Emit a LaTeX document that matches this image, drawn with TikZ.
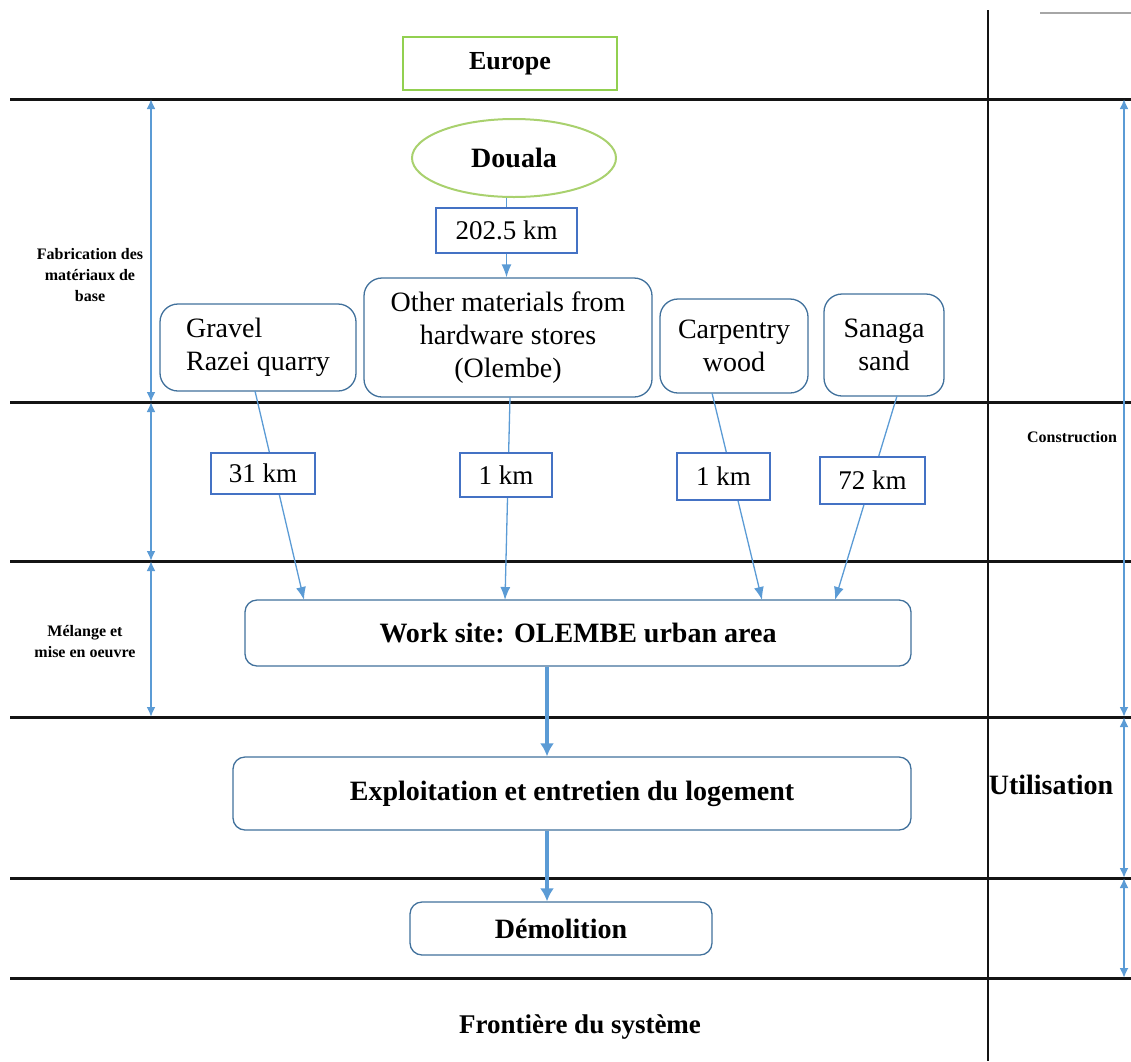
\documentclass[tikz,border=0pt]{standalone}
\usepackage{fontspec}
\setmainfont{Liberation Serif}
\usetikzlibrary{shapes.geometric,arrows.meta,calc}
\definecolor{sepblack}{RGB}{20,20,20}
\definecolor{arrowblue}{RGB}{91,155,213}
\definecolor{boxblue}{RGB}{65,113,156}
\definecolor{kmblue}{RGB}{68,114,196}
\definecolor{eugreen}{RGB}{146,208,80}
\definecolor{elgreen}{RGB}{169,209,110}
\tikzset{
  sep/.style={line width=3pt, sepblack},
  dimarrow/.style={arrowblue, line width=2pt, {Latex[length=10pt,width=9pt]}-{Latex[length=10pt,width=9pt]}},
  flow/.style={arrowblue, line width=1.3pt, -{Latex[length=13pt,width=10pt]}},
  plainflow/.style={arrowblue, line width=1.3pt},
  bigflow/.style={arrowblue, line width=4pt, -{Latex[length=13pt,width=14pt]}},
  bigfont/.style={font=\fontsize{28}{33}\selectfont},
  rbox/.style={draw=boxblue, line width=1.3pt, rounded corners=18pt, fill=white, inner sep=0pt, align=center, bigfont},
  wbox/.style={draw=boxblue, line width=1.3pt, rounded corners=12pt, fill=white, inner sep=0pt, font=\fontsize{28}{33}\selectfont\bfseries},
  kmbox/.style={draw=kmblue, line width=1.3pt, fill=white, inner sep=0pt, font=\fontsize{27}{33}\selectfont},
  smalllab/.style={align=center, font=\fontsize{16}{21}\selectfont\bfseries},
  biglab/.style={font=\fontsize{28}{33}\selectfont\bfseries},
}
\begin{document}
\begin{tikzpicture}[x=1pt,y=-1pt]
\useasboundingbox (0,0) rectangle (1131,1061);
% separators
\draw[sep] (10,99) -- (1131,99);
\draw[sep] (10,402) -- (1131,402);
\draw[sep] (10,561) -- (1131,561);
\draw[sep] (10,717) -- (1131,717);
\draw[sep] (10,878) -- (1131,878);
\draw[sep] (10,978) -- (1131,978);
\draw[line width=2.5pt, sepblack] (988,10) -- (988,1061);
\draw[line width=1.5pt, gray!70] (1040,13) -- (1131,13);
% dimension arrows
\coordinate (la) at (151,99);
\coordinate (lb) at (151,402);
\coordinate (lc) at (151,561);
\coordinate (ld) at (151,717);
\coordinate (ra) at (1124,99);
\coordinate (rb) at (1124,717);
\coordinate (rc) at (1124,878);
\coordinate (rd) at (1124,978);
\draw[dimarrow] (la) -- (lb);
\draw[dimarrow] (lb) -- (lc);
\draw[dimarrow] (lc) -- (ld);
\draw[dimarrow] (ra) -- (rb);
\draw[dimarrow] (rb) -- (rc);
\draw[dimarrow] (rc) -- (rd);
% labels
\node[smalllab] (fab) at (90,275) {Fabrication des\\matériaux de\\base};
\node[smalllab] (mel) at (85,642) {Mélange et\\mise en oeuvre};
\node[font=\fontsize{16}{18}\selectfont\bfseries] (cons) at (1072,437) {Construction};
\node[biglab] (util) at (1051,785) {Utilisation};
\node[font=\fontsize{27}{30}\selectfont\bfseries] (front) at (580,1027) {Frontière du système};
% main nodes
\node[draw=eugreen, line width=2.5pt, minimum width=214pt, minimum height=53pt, inner sep=0pt, font=\fontsize{26}{30}\selectfont\bfseries] (europe) at (510,63.5) {Europe};
\node[ellipse, draw=elgreen, line width=2pt, minimum width=204pt, minimum height=78pt, inner sep=0pt, biglab] (douala) at (514,158) {Douala};
\node[kmbox, minimum width=141pt, minimum height=45pt] (k202) at (506.5,230.5) {202.5 km};
\node[rbox, minimum width=288pt, minimum height=119pt] (other) at (508,337.5) {Other materials from\\hardware stores\\(Olembe)};
\node[rbox, minimum width=196pt, minimum height=87pt, align=left] (gravel) at (258,347.5) {Gravel\\Razei quarry};
\node[rbox, minimum width=148pt, minimum height=94pt] (carp) at (734,346) {Carpentry\\wood};
\node[rbox, minimum width=120pt, minimum height=102pt] (sand) at (884,345) {Sanaga\\sand};
\node[wbox, minimum width=666pt, minimum height=66pt] (ws) at (578,633) {Work site: OLEMBE urban area};
\node[wbox, minimum width=678pt, minimum height=73pt] (expl) at (572,793.5) {Exploitation et entretien du logement};
\node[wbox, minimum width=302pt, minimum height=53pt] (demo) at (561,928.5) {Démolition};
% connectors
\draw[plainflow] (douala.south -| k202.north) -- (k202.north);
\draw[flow] (k202.south) -- (k202.south |- other.north);
\coordinate (g1) at (255,391);
\coordinate (g2) at (304,600);
\coordinate (o1) at (510,397);
\coordinate (o2) at (505,600);
\coordinate (c1) at (712,393);
\coordinate (c2) at (762,600);
\coordinate (s1) at (897,396);
\coordinate (s2) at (835,600);
\draw[flow] (g1) -- (g2);
\draw[flow] (o1) -- (o2);
\draw[flow] (c1) -- (c2);
\draw[flow] (s1) -- (s2);
\draw[bigflow] (ws.south -| 547,0) -- (expl.north -| 547,0);
\draw[bigflow] (expl.south -| 547,0) -- (demo.north -| 547,0);
% distance boxes
\node[kmbox, minimum width=104pt, minimum height=41pt] (d31) at (263,473.5) {31 km};
\node[kmbox, minimum width=92pt, minimum height=44pt] (d1a) at (506,475) {1 km};
\node[kmbox, minimum width=93pt, minimum height=47pt] (d1b) at (723.5,476.5) {1 km};
\node[kmbox, minimum width=105pt, minimum height=47pt] (d72) at (872.5,480.5) {72 km};
\end{tikzpicture}
\end{document}
